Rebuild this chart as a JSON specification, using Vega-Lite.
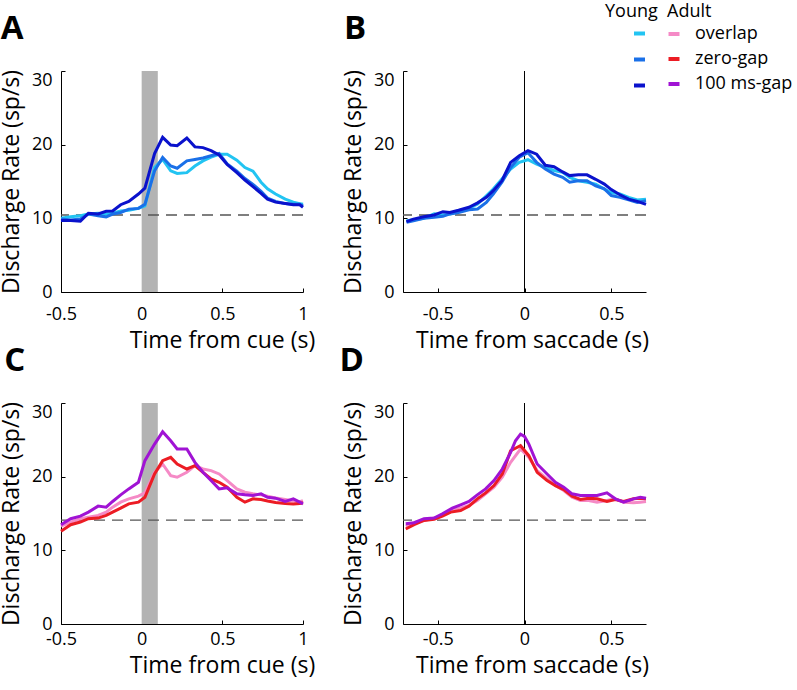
{
  "$schema": "https://vega.github.io/schema/vega-lite/v6.json",
  "background": "white",
  "padding": {"left": 0, "top": 3, "right": 0, "bottom": 0},
  "bounds": "flush",
  "columns": 2,
  "spacing": {"row": 111, "column": 100},
  "config": {
    "font": "Open Sans",
    "view": {"stroke": null},
    "axis": {
      "grid": false, "domainColor": "black", "domainWidth": 1, "tickColor": "black", "tickWidth": 1, "tickSize": -4,
      "labelColor": "black", "labelFontSize": 18, "labelFont": "Open Sans", "labelFlush": false,
      "titleColor": "black", "titleFontSize": 23, "titleFont": "Open Sans", "titleFontWeight": "normal"
    },
    "axisX": {"labelPadding": 17, "titlePadding": 6},
    "axisY": {"labelPadding": 13, "titlePadding": 8},
    "legend": {"padding": 0},
    "title": {"orient": "left", "angle": 0, "anchor": "end", "frame": "group", "fontSize": 33, "fontWeight": "bold", "color": "black", "align": "left", "baseline": "alphabetic", "offset": 0, "dx": 50, "dy": -58}
  },
  "datasets": {
    "A": [
      {"t":-0.5,"r":10.0,"c":"overlap"},{"t":-0.44,"r":10.2,"c":"overlap"},{"t":-0.38,"r":10.35,"c":"overlap"},{"t":-0.33,"r":10.6,"c":"overlap"},{"t":-0.27,"r":10.7,"c":"overlap"},{"t":-0.22,"r":10.6,"c":"overlap"},{"t":-0.18,"r":10.7,"c":"overlap"},{"t":-0.13,"r":11.0,"c":"overlap"},{"t":-0.08,"r":11.1,"c":"overlap"},{"t":-0.02,"r":11.35,"c":"overlap"},{"t":0.02,"r":11.7,"c":"overlap"},{"t":0.08,"r":16.9,"c":"overlap"},{"t":0.13,"r":18.0,"c":"overlap"},{"t":0.18,"r":16.45,"c":"overlap"},{"t":0.22,"r":16.1,"c":"overlap"},{"t":0.28,"r":16.2,"c":"overlap"},{"t":0.33,"r":17.1,"c":"overlap"},{"t":0.38,"r":17.8,"c":"overlap"},{"t":0.43,"r":18.3,"c":"overlap"},{"t":0.48,"r":18.7,"c":"overlap"},{"t":0.53,"r":18.7,"c":"overlap"},{"t":0.59,"r":17.9,"c":"overlap"},{"t":0.64,"r":16.9,"c":"overlap"},{"t":0.69,"r":16.4,"c":"overlap"},{"t":0.74,"r":14.9,"c":"overlap"},{"t":0.78,"r":14.0,"c":"overlap"},{"t":0.83,"r":13.3,"c":"overlap"},{"t":0.89,"r":12.6,"c":"overlap"},{"t":0.94,"r":12.2,"c":"overlap"},{"t":0.98,"r":12.0,"c":"overlap"},{"t":1.0,"r":11.9,"c":"overlap"},
      {"t":-0.5,"r":9.9,"c":"zero-gap"},{"t":-0.44,"r":9.76,"c":"zero-gap"},{"t":-0.38,"r":9.9,"c":"zero-gap"},{"t":-0.33,"r":10.58,"c":"zero-gap"},{"t":-0.27,"r":10.35,"c":"zero-gap"},{"t":-0.22,"r":10.2,"c":"zero-gap"},{"t":-0.18,"r":10.58,"c":"zero-gap"},{"t":-0.13,"r":10.8,"c":"zero-gap"},{"t":-0.08,"r":11.25,"c":"zero-gap"},{"t":-0.02,"r":11.35,"c":"zero-gap"},{"t":0.02,"r":11.9,"c":"zero-gap"},{"t":0.08,"r":16.45,"c":"zero-gap"},{"t":0.13,"r":18.27,"c":"zero-gap"},{"t":0.18,"r":17.1,"c":"zero-gap"},{"t":0.22,"r":16.8,"c":"zero-gap"},{"t":0.28,"r":17.8,"c":"zero-gap"},{"t":0.33,"r":18.0,"c":"zero-gap"},{"t":0.38,"r":18.2,"c":"zero-gap"},{"t":0.43,"r":18.5,"c":"zero-gap"},{"t":0.48,"r":18.8,"c":"zero-gap"},{"t":0.53,"r":17.4,"c":"zero-gap"},{"t":0.59,"r":16.4,"c":"zero-gap"},{"t":0.64,"r":15.4,"c":"zero-gap"},{"t":0.69,"r":14.6,"c":"zero-gap"},{"t":0.74,"r":13.65,"c":"zero-gap"},{"t":0.78,"r":12.75,"c":"zero-gap"},{"t":0.83,"r":12.3,"c":"zero-gap"},{"t":0.89,"r":12.0,"c":"zero-gap"},{"t":0.94,"r":11.9,"c":"zero-gap"},{"t":0.98,"r":11.9,"c":"zero-gap"},{"t":1.0,"r":11.7,"c":"zero-gap"},
      {"t":-0.5,"r":9.7,"c":"100 ms-gap"},{"t":-0.44,"r":9.7,"c":"100 ms-gap"},{"t":-0.38,"r":9.6,"c":"100 ms-gap"},{"t":-0.33,"r":10.7,"c":"100 ms-gap"},{"t":-0.27,"r":10.6,"c":"100 ms-gap"},{"t":-0.22,"r":10.95,"c":"100 ms-gap"},{"t":-0.18,"r":11.0,"c":"100 ms-gap"},{"t":-0.13,"r":11.85,"c":"100 ms-gap"},{"t":-0.08,"r":12.3,"c":"100 ms-gap"},{"t":-0.02,"r":13.3,"c":"100 ms-gap"},{"t":0.02,"r":14.1,"c":"100 ms-gap"},{"t":0.08,"r":18.8,"c":"100 ms-gap"},{"t":0.13,"r":21.0,"c":"100 ms-gap"},{"t":0.18,"r":19.95,"c":"100 ms-gap"},{"t":0.22,"r":19.85,"c":"100 ms-gap"},{"t":0.28,"r":20.9,"c":"100 ms-gap"},{"t":0.33,"r":19.7,"c":"100 ms-gap"},{"t":0.38,"r":19.6,"c":"100 ms-gap"},{"t":0.43,"r":19.2,"c":"100 ms-gap"},{"t":0.48,"r":18.6,"c":"100 ms-gap"},{"t":0.53,"r":17.3,"c":"100 ms-gap"},{"t":0.59,"r":16.2,"c":"100 ms-gap"},{"t":0.64,"r":15.2,"c":"100 ms-gap"},{"t":0.69,"r":14.3,"c":"100 ms-gap"},{"t":0.74,"r":13.4,"c":"100 ms-gap"},{"t":0.78,"r":12.6,"c":"100 ms-gap"},{"t":0.83,"r":12.2,"c":"100 ms-gap"},{"t":0.89,"r":12.0,"c":"100 ms-gap"},{"t":0.94,"r":11.85,"c":"100 ms-gap"},{"t":0.98,"r":11.85,"c":"100 ms-gap"},{"t":1.0,"r":11.5,"c":"100 ms-gap"}
    ],
    "B": [
      {"t":-0.68,"r":9.68,"c":"overlap"},{"t":-0.64,"r":9.8,"c":"overlap"},{"t":-0.58,"r":10.0,"c":"overlap"},{"t":-0.52,"r":10.6,"c":"overlap"},{"t":-0.47,"r":10.45,"c":"overlap"},{"t":-0.43,"r":10.6,"c":"overlap"},{"t":-0.38,"r":10.9,"c":"overlap"},{"t":-0.32,"r":11.35,"c":"overlap"},{"t":-0.27,"r":11.94,"c":"overlap"},{"t":-0.22,"r":13.07,"c":"overlap"},{"t":-0.18,"r":13.97,"c":"overlap"},{"t":-0.13,"r":15.33,"c":"overlap"},{"t":-0.08,"r":16.7,"c":"overlap"},{"t":-0.03,"r":17.6,"c":"overlap"},{"t":0.02,"r":17.96,"c":"overlap"},{"t":0.07,"r":17.37,"c":"overlap"},{"t":0.12,"r":16.9,"c":"overlap"},{"t":0.17,"r":16.5,"c":"overlap"},{"t":0.22,"r":16.24,"c":"overlap"},{"t":0.26,"r":15.56,"c":"overlap"},{"t":0.31,"r":15.1,"c":"overlap"},{"t":0.36,"r":14.9,"c":"overlap"},{"t":0.41,"r":14.65,"c":"overlap"},{"t":0.46,"r":13.97,"c":"overlap"},{"t":0.5,"r":13.5,"c":"overlap"},{"t":0.55,"r":13.3,"c":"overlap"},{"t":0.6,"r":12.85,"c":"overlap"},{"t":0.65,"r":12.5,"c":"overlap"},{"t":0.7,"r":12.6,"c":"overlap"},
      {"t":-0.68,"r":9.45,"c":"zero-gap"},{"t":-0.64,"r":9.68,"c":"zero-gap"},{"t":-0.58,"r":10.0,"c":"zero-gap"},{"t":-0.52,"r":10.13,"c":"zero-gap"},{"t":-0.47,"r":10.27,"c":"zero-gap"},{"t":-0.43,"r":10.6,"c":"zero-gap"},{"t":-0.38,"r":10.8,"c":"zero-gap"},{"t":-0.32,"r":11.17,"c":"zero-gap"},{"t":-0.27,"r":11.26,"c":"zero-gap"},{"t":-0.22,"r":12.17,"c":"zero-gap"},{"t":-0.18,"r":13.3,"c":"zero-gap"},{"t":-0.13,"r":14.9,"c":"zero-gap"},{"t":-0.08,"r":16.9,"c":"zero-gap"},{"t":-0.03,"r":18.3,"c":"zero-gap"},{"t":0.02,"r":18.9,"c":"zero-gap"},{"t":0.07,"r":17.6,"c":"zero-gap"},{"t":0.12,"r":16.7,"c":"zero-gap"},{"t":0.17,"r":16.0,"c":"zero-gap"},{"t":0.22,"r":15.56,"c":"zero-gap"},{"t":0.26,"r":14.9,"c":"zero-gap"},{"t":0.31,"r":15.1,"c":"zero-gap"},{"t":0.36,"r":15.1,"c":"zero-gap"},{"t":0.41,"r":14.4,"c":"zero-gap"},{"t":0.46,"r":14.0,"c":"zero-gap"},{"t":0.5,"r":13.1,"c":"zero-gap"},{"t":0.55,"r":12.85,"c":"zero-gap"},{"t":0.6,"r":12.5,"c":"zero-gap"},{"t":0.65,"r":12.17,"c":"zero-gap"},{"t":0.7,"r":12.4,"c":"zero-gap"},
      {"t":-0.68,"r":9.54,"c":"100 ms-gap"},{"t":-0.64,"r":9.9,"c":"100 ms-gap"},{"t":-0.58,"r":10.22,"c":"100 ms-gap"},{"t":-0.52,"r":10.45,"c":"100 ms-gap"},{"t":-0.47,"r":10.9,"c":"100 ms-gap"},{"t":-0.43,"r":10.8,"c":"100 ms-gap"},{"t":-0.38,"r":11.1,"c":"100 ms-gap"},{"t":-0.32,"r":11.5,"c":"100 ms-gap"},{"t":-0.27,"r":12.1,"c":"100 ms-gap"},{"t":-0.22,"r":12.85,"c":"100 ms-gap"},{"t":-0.18,"r":13.75,"c":"100 ms-gap"},{"t":-0.13,"r":15.1,"c":"100 ms-gap"},{"t":-0.08,"r":17.6,"c":"100 ms-gap"},{"t":-0.03,"r":18.5,"c":"100 ms-gap"},{"t":0.02,"r":19.2,"c":"100 ms-gap"},{"t":0.07,"r":18.7,"c":"100 ms-gap"},{"t":0.12,"r":17.2,"c":"100 ms-gap"},{"t":0.17,"r":17.0,"c":"100 ms-gap"},{"t":0.22,"r":16.3,"c":"100 ms-gap"},{"t":0.26,"r":15.8,"c":"100 ms-gap"},{"t":0.31,"r":15.9,"c":"100 ms-gap"},{"t":0.36,"r":15.9,"c":"100 ms-gap"},{"t":0.41,"r":15.3,"c":"100 ms-gap"},{"t":0.46,"r":14.65,"c":"100 ms-gap"},{"t":0.5,"r":13.9,"c":"100 ms-gap"},{"t":0.55,"r":13.2,"c":"100 ms-gap"},{"t":0.6,"r":12.6,"c":"100 ms-gap"},{"t":0.65,"r":12.3,"c":"100 ms-gap"},{"t":0.7,"r":11.9,"c":"100 ms-gap"}
    ],
    "C": [
      {"t":-0.5,"r":13.3,"c":"overlap"},{"t":-0.44,"r":13.84,"c":"overlap"},{"t":-0.38,"r":14.29,"c":"overlap"},{"t":-0.33,"r":14.51,"c":"overlap"},{"t":-0.27,"r":14.74,"c":"overlap"},{"t":-0.22,"r":15.19,"c":"overlap"},{"t":-0.18,"r":15.86,"c":"overlap"},{"t":-0.13,"r":16.54,"c":"overlap"},{"t":-0.08,"r":16.99,"c":"overlap"},{"t":-0.02,"r":17.35,"c":"overlap"},{"t":0.02,"r":17.8,"c":"overlap"},{"t":0.08,"r":20.59,"c":"overlap"},{"t":0.13,"r":21.72,"c":"overlap"},{"t":0.18,"r":20.14,"c":"overlap"},{"t":0.22,"r":19.92,"c":"overlap"},{"t":0.28,"r":20.59,"c":"overlap"},{"t":0.33,"r":21.49,"c":"overlap"},{"t":0.38,"r":21.04,"c":"overlap"},{"t":0.43,"r":20.82,"c":"overlap"},{"t":0.48,"r":20.37,"c":"overlap"},{"t":0.53,"r":19.47,"c":"overlap"},{"t":0.59,"r":18.34,"c":"overlap"},{"t":0.64,"r":17.89,"c":"overlap"},{"t":0.69,"r":17.67,"c":"overlap"},{"t":0.74,"r":17.53,"c":"overlap"},{"t":0.78,"r":17.35,"c":"overlap"},{"t":0.83,"r":17.1,"c":"overlap"},{"t":0.89,"r":16.9,"c":"overlap"},{"t":0.94,"r":16.7,"c":"overlap"},{"t":0.98,"r":16.6,"c":"overlap"},{"t":1.0,"r":16.76,"c":"overlap"},
      {"t":-0.5,"r":12.6,"c":"zero-gap"},{"t":-0.44,"r":13.48,"c":"zero-gap"},{"t":-0.38,"r":13.84,"c":"zero-gap"},{"t":-0.33,"r":14.29,"c":"zero-gap"},{"t":-0.27,"r":14.38,"c":"zero-gap"},{"t":-0.22,"r":14.74,"c":"zero-gap"},{"t":-0.18,"r":15.19,"c":"zero-gap"},{"t":-0.13,"r":15.73,"c":"zero-gap"},{"t":-0.08,"r":16.31,"c":"zero-gap"},{"t":-0.02,"r":16.54,"c":"zero-gap"},{"t":0.02,"r":17.21,"c":"zero-gap"},{"t":0.08,"r":20.37,"c":"zero-gap"},{"t":0.13,"r":22.17,"c":"zero-gap"},{"t":0.18,"r":22.62,"c":"zero-gap"},{"t":0.22,"r":21.72,"c":"zero-gap"},{"t":0.28,"r":21.04,"c":"zero-gap"},{"t":0.33,"r":21.49,"c":"zero-gap"},{"t":0.38,"r":20.59,"c":"zero-gap"},{"t":0.43,"r":19.69,"c":"zero-gap"},{"t":0.48,"r":19.24,"c":"zero-gap"},{"t":0.53,"r":18.57,"c":"zero-gap"},{"t":0.59,"r":17.21,"c":"zero-gap"},{"t":0.64,"r":16.54,"c":"zero-gap"},{"t":0.69,"r":16.99,"c":"zero-gap"},{"t":0.74,"r":16.9,"c":"zero-gap"},{"t":0.78,"r":16.7,"c":"zero-gap"},{"t":0.83,"r":16.5,"c":"zero-gap"},{"t":0.89,"r":16.35,"c":"zero-gap"},{"t":0.94,"r":16.3,"c":"zero-gap"},{"t":0.98,"r":16.35,"c":"zero-gap"},{"t":1.0,"r":16.45,"c":"zero-gap"},
      {"t":-0.5,"r":13.48,"c":"100 ms-gap"},{"t":-0.44,"r":14.29,"c":"100 ms-gap"},{"t":-0.38,"r":14.65,"c":"100 ms-gap"},{"t":-0.33,"r":15.19,"c":"100 ms-gap"},{"t":-0.27,"r":16.0,"c":"100 ms-gap"},{"t":-0.22,"r":15.86,"c":"100 ms-gap"},{"t":-0.18,"r":16.63,"c":"100 ms-gap"},{"t":-0.13,"r":17.53,"c":"100 ms-gap"},{"t":-0.08,"r":18.34,"c":"100 ms-gap"},{"t":-0.02,"r":19.24,"c":"100 ms-gap"},{"t":0.02,"r":22.17,"c":"100 ms-gap"},{"t":0.08,"r":24.42,"c":"100 ms-gap"},{"t":0.13,"r":26.09,"c":"100 ms-gap"},{"t":0.18,"r":24.87,"c":"100 ms-gap"},{"t":0.22,"r":23.75,"c":"100 ms-gap"},{"t":0.28,"r":23.75,"c":"100 ms-gap"},{"t":0.33,"r":21.94,"c":"100 ms-gap"},{"t":0.38,"r":20.6,"c":"100 ms-gap"},{"t":0.43,"r":19.47,"c":"100 ms-gap"},{"t":0.48,"r":18.34,"c":"100 ms-gap"},{"t":0.53,"r":18.48,"c":"100 ms-gap"},{"t":0.59,"r":17.67,"c":"100 ms-gap"},{"t":0.64,"r":17.53,"c":"100 ms-gap"},{"t":0.69,"r":17.44,"c":"100 ms-gap"},{"t":0.74,"r":17.67,"c":"100 ms-gap"},{"t":0.78,"r":17.2,"c":"100 ms-gap"},{"t":0.83,"r":17.08,"c":"100 ms-gap"},{"t":0.89,"r":16.63,"c":"100 ms-gap"},{"t":0.94,"r":16.99,"c":"100 ms-gap"},{"t":0.98,"r":16.54,"c":"100 ms-gap"},{"t":1.0,"r":16.31,"c":"100 ms-gap"}
    ],
    "D": [
      {"t":-0.684,"r":13.3,"c":"overlap"},{"t":-0.636,"r":13.75,"c":"overlap"},{"t":-0.579,"r":14.06,"c":"overlap"},{"t":-0.521,"r":14.38,"c":"overlap"},{"t":-0.473,"r":14.74,"c":"overlap"},{"t":-0.425,"r":15.41,"c":"overlap"},{"t":-0.368,"r":15.73,"c":"overlap"},{"t":-0.32,"r":16.09,"c":"overlap"},{"t":-0.272,"r":16.76,"c":"overlap"},{"t":-0.224,"r":17.67,"c":"overlap"},{"t":-0.176,"r":18.57,"c":"overlap"},{"t":-0.128,"r":19.92,"c":"overlap"},{"t":-0.08,"r":21.94,"c":"overlap"},{"t":-0.023,"r":23.75,"c":"overlap"},{"t":0.025,"r":22.62,"c":"overlap"},{"t":0.073,"r":20.82,"c":"overlap"},{"t":0.13,"r":19.69,"c":"overlap"},{"t":0.178,"r":18.79,"c":"overlap"},{"t":0.226,"r":18.12,"c":"overlap"},{"t":0.274,"r":17.21,"c":"overlap"},{"t":0.322,"r":16.76,"c":"overlap"},{"t":0.37,"r":16.76,"c":"overlap"},{"t":0.418,"r":16.54,"c":"overlap"},{"t":0.475,"r":16.76,"c":"overlap"},{"t":0.523,"r":16.99,"c":"overlap"},{"t":0.571,"r":16.54,"c":"overlap"},{"t":0.628,"r":16.45,"c":"overlap"},{"t":0.667,"r":16.54,"c":"overlap"},{"t":0.7,"r":16.63,"c":"overlap"},
      {"t":-0.684,"r":12.9,"c":"zero-gap"},{"t":-0.636,"r":13.48,"c":"zero-gap"},{"t":-0.579,"r":14.06,"c":"zero-gap"},{"t":-0.521,"r":14.2,"c":"zero-gap"},{"t":-0.473,"r":14.65,"c":"zero-gap"},{"t":-0.425,"r":15.19,"c":"zero-gap"},{"t":-0.368,"r":15.41,"c":"zero-gap"},{"t":-0.32,"r":16.0,"c":"zero-gap"},{"t":-0.272,"r":16.99,"c":"zero-gap"},{"t":-0.224,"r":17.8,"c":"zero-gap"},{"t":-0.176,"r":18.79,"c":"zero-gap"},{"t":-0.128,"r":20.37,"c":"zero-gap"},{"t":-0.08,"r":23.52,"c":"zero-gap"},{"t":-0.023,"r":24.2,"c":"zero-gap"},{"t":0.025,"r":22.85,"c":"zero-gap"},{"t":0.073,"r":20.59,"c":"zero-gap"},{"t":0.13,"r":19.47,"c":"zero-gap"},{"t":0.178,"r":18.79,"c":"zero-gap"},{"t":0.226,"r":18.25,"c":"zero-gap"},{"t":0.274,"r":17.35,"c":"zero-gap"},{"t":0.322,"r":16.9,"c":"zero-gap"},{"t":0.37,"r":17.08,"c":"zero-gap"},{"t":0.418,"r":16.99,"c":"zero-gap"},{"t":0.475,"r":16.63,"c":"zero-gap"},{"t":0.523,"r":16.9,"c":"zero-gap"},{"t":0.571,"r":16.63,"c":"zero-gap"},{"t":0.628,"r":16.99,"c":"zero-gap"},{"t":0.667,"r":17.08,"c":"zero-gap"},{"t":0.7,"r":16.99,"c":"zero-gap"},
      {"t":-0.684,"r":13.61,"c":"100 ms-gap"},{"t":-0.636,"r":13.75,"c":"100 ms-gap"},{"t":-0.579,"r":14.29,"c":"100 ms-gap"},{"t":-0.521,"r":14.38,"c":"100 ms-gap"},{"t":-0.473,"r":14.96,"c":"100 ms-gap"},{"t":-0.416,"r":15.73,"c":"100 ms-gap"},{"t":-0.368,"r":16.18,"c":"100 ms-gap"},{"t":-0.32,"r":16.63,"c":"100 ms-gap"},{"t":-0.272,"r":17.53,"c":"100 ms-gap"},{"t":-0.224,"r":18.34,"c":"100 ms-gap"},{"t":-0.176,"r":19.47,"c":"100 ms-gap"},{"t":-0.128,"r":21.04,"c":"100 ms-gap"},{"t":-0.08,"r":23.3,"c":"100 ms-gap"},{"t":-0.052,"r":24.87,"c":"100 ms-gap"},{"t":-0.023,"r":25.77,"c":"100 ms-gap"},{"t":0.0,"r":25.46,"c":"100 ms-gap"},{"t":0.025,"r":24.42,"c":"100 ms-gap"},{"t":0.073,"r":21.72,"c":"100 ms-gap"},{"t":0.13,"r":20.37,"c":"100 ms-gap"},{"t":0.178,"r":19.24,"c":"100 ms-gap"},{"t":0.226,"r":18.57,"c":"100 ms-gap"},{"t":0.274,"r":17.67,"c":"100 ms-gap"},{"t":0.322,"r":17.44,"c":"100 ms-gap"},{"t":0.37,"r":17.44,"c":"100 ms-gap"},{"t":0.418,"r":17.44,"c":"100 ms-gap"},{"t":0.475,"r":17.8,"c":"100 ms-gap"},{"t":0.523,"r":16.99,"c":"100 ms-gap"},{"t":0.571,"r":16.54,"c":"100 ms-gap"},{"t":0.628,"r":16.99,"c":"100 ms-gap"},{"t":0.667,"r":17.21,"c":"100 ms-gap"},{"t":0.7,"r":17.08,"c":"100 ms-gap"}
    ]
  },
  "resolve": {"scale": {"color": "independent"}, "legend": {"color": "independent"}},
  "concat": [
    {
      "width": 242, "height": 221,
      "title": {"text": "A"},
      "layer": [
        {"data": {"values": [{"s": 0, "e": 0.1}]}, "mark": {"type": "rect", "color": "#b3b3b3"},
         "encoding": {"x": {"field": "s", "type": "quantitative"}, "x2": {"field": "e"}, "y": {"datum": 0}, "y2": {"datum": 30}}},
        {"data": {"values": [{}]}, "mark": {"type": "rule", "strokeDash": [11, 7], "color": "#555555", "strokeWidth": 1.3},
         "encoding": {"y": {"datum": 10.45}}},
        {"data": {"name": "A"}, "mark": {"type": "line", "strokeWidth": 3},
         "encoding": {
           "x": {"field": "t", "type": "quantitative", "scale": {"domain": [-0.5, 1], "nice": false, "zero": false},
                 "axis": {"title": "Time from cue (s)", "values": [-0.5, 0, 0.5, 1], "titleX": 161, "labelExpr": "datum.value < 0 ? '-' + format(-datum.value, '~g') : format(datum.value, '~g')"}},
           "y": {"field": "r", "type": "quantitative", "scale": {"domain": [0, 30], "nice": false},
                 "axis": {"title": "Discharge Rate (sp/s)", "values": [0, 10, 20, 30], "labelBaseline": {"condition": {"test": "datum.value == 30", "value": "top"}, "value": "middle"}}},
           "color": {"field": "c", "type": "nominal",
                     "scale": {"domain": ["overlap", "zero-gap", "100 ms-gap"], "range": ["#22c4f2", "#1a70e8", "#0a12cc"]},
                     "legend": {"orient": "none", "legendX": 544, "legendY": -68, "title": "Young", "titleFontSize": 18, "titleFontWeight": "normal", "titleColor": "black", "titlePadding": 4,
                                "labelExpr": "''", "labelFontSize": 17, "symbolType": "stroke", "symbolSize": 121, "symbolStrokeWidth": 4, "symbolOffset": 26, "rowPadding": 8, "padding": 0}}
         }}
      ]
    },
    {
      "width": 243, "height": 221,
      "title": {"text": "B"},
      "layer": [
        {"data": {"values": [{}]}, "mark": {"type": "rule", "color": "black", "strokeWidth": 1},
         "encoding": {"x": {"datum": 0}}},
        {"data": {"values": [{}]}, "mark": {"type": "rule", "strokeDash": [11, 7], "color": "#555555", "strokeWidth": 1.3},
         "encoding": {"y": {"datum": 10.45}}},
        {"data": {"name": "B"}, "mark": {"type": "line", "strokeWidth": 3},
         "encoding": {
           "x": {"field": "t", "type": "quantitative", "scale": {"domain": [-0.7, 0.7], "nice": false, "zero": false},
                 "axis": {"title": "Time from saccade (s)", "values": [-0.5, 0, 0.5], "titleX": 129, "labelExpr": "datum.value < 0 ? '-' + format(-datum.value, '~g') : format(datum.value, '~g')"}},
           "y": {"field": "r", "type": "quantitative", "scale": {"domain": [0, 30], "nice": false},
                 "axis": {"title": "Discharge Rate (sp/s)", "values": [0, 10, 20, 30], "labelBaseline": {"condition": {"test": "datum.value == 30", "value": "top"}, "value": "middle"}}},
           "color": {"field": "c", "type": "nominal",
                     "scale": {"domain": ["overlap", "zero-gap", "100 ms-gap"], "range": ["#22c4f2", "#1a70e8", "#0a12cc"]},
                     "legend": null}
         }}
      ]
    },
    {
      "width": 242, "height": 221,
      "title": {"text": "C"},
      "layer": [
        {"data": {"values": [{"s": 0, "e": 0.1}]}, "mark": {"type": "rect", "color": "#b3b3b3"},
         "encoding": {"x": {"field": "s", "type": "quantitative"}, "x2": {"field": "e"}, "y": {"datum": 0}, "y2": {"datum": 30}}},
        {"data": {"values": [{}]}, "mark": {"type": "rule", "strokeDash": [11, 7], "color": "#555555", "strokeWidth": 1.3},
         "encoding": {"y": {"datum": 14.1}}},
        {"data": {"name": "C"}, "mark": {"type": "line", "strokeWidth": 3},
         "encoding": {
           "x": {"field": "t", "type": "quantitative", "scale": {"domain": [-0.5, 1], "nice": false, "zero": false},
                 "axis": {"title": "Time from cue (s)", "values": [-0.5, 0, 0.5, 1], "titleX": 161, "labelPadding": 10, "titlePadding": 6, "labelExpr": "datum.value < 0 ? '-' + format(-datum.value, '~g') : format(datum.value, '~g')"}},
           "y": {"field": "r", "type": "quantitative", "scale": {"domain": [0, 30], "nice": false},
                 "axis": {"title": "Discharge Rate (sp/s)", "values": [0, 10, 20, 30], "labelBaseline": {"condition": {"test": "datum.value == 30", "value": "top"}, "value": "middle"}}},
           "color": {"field": "c", "type": "nominal",
                     "scale": {"domain": ["overlap", "zero-gap", "100 ms-gap"], "range": ["#f58ac6", "#ec1c24", "#a013d4"]},
                     "legend": {"orient": "none", "legendX": 606, "legendY": -400, "title": "Adult", "titleFontSize": 18, "titleFontWeight": "normal", "titleColor": "black", "titlePadding": 4,
                                "labelColor": "black", "labelFontSize": 18, "labelOffset": 12, "symbolType": "stroke", "symbolSize": 121, "symbolStrokeWidth": 4, "symbolOffset": -2, "rowPadding": 7, "padding": 0}}
         }}
      ]
    },
    {
      "width": 243, "height": 221,
      "title": {"text": "D"},
      "layer": [
        {"data": {"values": [{}]}, "mark": {"type": "rule", "color": "black", "strokeWidth": 1},
         "encoding": {"x": {"datum": 0}}},
        {"data": {"values": [{}]}, "mark": {"type": "rule", "strokeDash": [11, 7], "color": "#555555", "strokeWidth": 1.3},
         "encoding": {"y": {"datum": 14.1}}},
        {"data": {"name": "D"}, "mark": {"type": "line", "strokeWidth": 3},
         "encoding": {
           "x": {"field": "t", "type": "quantitative", "scale": {"domain": [-0.7, 0.7], "nice": false, "zero": false},
                 "axis": {"title": "Time from saccade (s)", "values": [-0.5, 0, 0.5], "titleX": 129, "labelPadding": 10, "titlePadding": 6, "labelExpr": "datum.value < 0 ? '-' + format(-datum.value, '~g') : format(datum.value, '~g')"}},
           "y": {"field": "r", "type": "quantitative", "scale": {"domain": [0, 30], "nice": false},
                 "axis": {"title": "Discharge Rate (sp/s)", "values": [0, 10, 20, 30], "labelBaseline": {"condition": {"test": "datum.value == 30", "value": "top"}, "value": "middle"}}},
           "color": {"field": "c", "type": "nominal",
                     "scale": {"domain": ["overlap", "zero-gap", "100 ms-gap"], "range": ["#f58ac6", "#ec1c24", "#a013d4"]},
                     "legend": null}
         }}
      ]
    }
  ]
}
